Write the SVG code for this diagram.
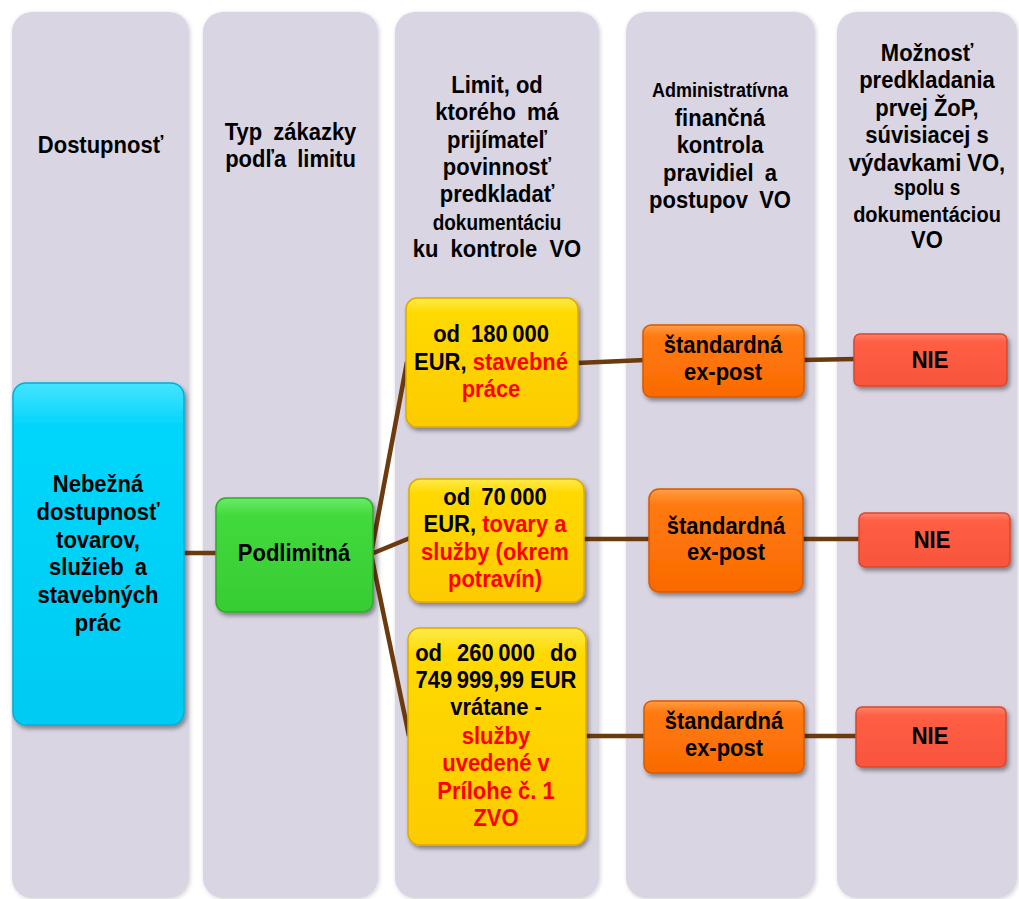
<svg xmlns="http://www.w3.org/2000/svg" width="1019" height="899" viewBox="0 0 1019 899">
<defs>
<style>
.t{font-family:"Liberation Sans",Arial,sans-serif;font-weight:bold;font-size:22px;text-anchor:middle;fill:#000}
.s{font-size:19px}
.r{fill:#FF0000}
.col{fill:#D9D5E3;filter:url(#csh)}
.con{stroke:#6B3A0E;stroke-width:4.5;fill:none;stroke-linecap:butt}
.n{filter:url(#sh);stroke-width:1.5}
</style>
<filter id="sh" x="-15%" y="-15%" width="135%" height="140%">
<feDropShadow dx="2" dy="3" stdDeviation="2.2" flood-color="#000" flood-opacity="0.4"/>
</filter>
<filter id="csh" x="-10%" y="-5%" width="120%" height="110%">
<feDropShadow dx="1" dy="1" stdDeviation="2" flood-color="#000" flood-opacity="0.18"/>
</filter>
<linearGradient id="gc" x1="0" y1="0" x2="0" y2="1"><stop offset="0" stop-color="#45E4FF"/><stop offset="0.12" stop-color="#05D6FB"/><stop offset="1" stop-color="#00CBF2"/></linearGradient>
<linearGradient id="gg" x1="0" y1="0" x2="0" y2="1"><stop offset="0" stop-color="#6CEA66"/><stop offset="0.15" stop-color="#42DA3D"/><stop offset="1" stop-color="#37CC33"/></linearGradient>
<linearGradient id="gy" x1="0" y1="0" x2="0" y2="1"><stop offset="0" stop-color="#FFEB4A"/><stop offset="0.12" stop-color="#FFD900"/><stop offset="1" stop-color="#FCCB00"/></linearGradient>
<linearGradient id="go" x1="0" y1="0" x2="0" y2="1"><stop offset="0" stop-color="#FF9E45"/><stop offset="0.15" stop-color="#FF7A12"/><stop offset="1" stop-color="#FA6A00"/></linearGradient>
<linearGradient id="gr" x1="0" y1="0" x2="0" y2="1"><stop offset="0" stop-color="#FF836A"/><stop offset="0.15" stop-color="#FF5E44"/><stop offset="1" stop-color="#F8553C"/></linearGradient>
</defs>
<rect width="1019" height="899" fill="#FFFFFF"/>
<g id="columns">
<rect class="col" x="12" y="12" width="177" height="886" rx="20"/>
<rect class="col" x="203" y="12" width="175" height="886" rx="20"/>
<rect class="col" x="395" y="12" width="204" height="886" rx="20"/>
<rect class="col" x="626" y="12" width="189" height="886" rx="20"/>
<rect class="col" x="837" y="12" width="180" height="886" rx="20"/>
</g>
<g id="headers">
<text class="t" transform="translate(100.5,153) scale(1,1.12)">Dostupnosť</text>
<text class="t" transform="translate(290.5,140) scale(1,1.12)" word-spacing="5"><tspan x="0">Typ zákazky</tspan><tspan x="0" dy="24.5">podľa limitu</tspan></text>
<text class="t" transform="translate(497,93) scale(1,1.12)"><tspan x="0">Limit, od</tspan><tspan x="0" dy="24.5" word-spacing="5">ktorého má</tspan><tspan x="0" dy="24.5">prijímateľ</tspan><tspan x="0" dy="24.5">povinnosť</tspan><tspan x="0" dy="24.2">predkladať</tspan><tspan x="0" dy="24.5" class="s" font-size="20">dokumentáciu</tspan><tspan x="0" dy="24.5" word-spacing="6">ku kontrole VO</tspan></text>
<text class="t" transform="translate(720,97) scale(1,1.12)"><tspan x="0" font-size="18">Administratívna</tspan><tspan x="0" dy="25.9">finančná</tspan><tspan x="0" dy="24.1">kontrola</tspan><tspan x="0" dy="25" word-spacing="5">pravidiel a</tspan><tspan x="0" dy="24.1" word-spacing="5">postupov VO</tspan></text>
<text class="t" transform="translate(927,61) scale(1,1.12)"><tspan x="0">Možnosť</tspan><tspan x="0" dy="24.1">predkladania</tspan><tspan x="0" dy="25">prvej ŽoP,</tspan><tspan x="0" dy="24.1">súvisiacej s</tspan><tspan x="0" dy="25">výdavkami VO,</tspan><tspan x="0" dy="21.4" font-size="19">spolu s</tspan><tspan x="0" dy="24.1" font-size="20">dokumentáciou</tspan><tspan x="0" dy="23.2">VO</tspan></text>
</g>
<g id="connectors">
<line class="con" x1="183" y1="553" x2="218" y2="553"/>
<line class="con" x1="371" y1="554" x2="407" y2="362"/>
<line class="con" x1="371" y1="554" x2="410" y2="538"/>
<line class="con" x1="371" y1="554" x2="409" y2="736"/>
<line class="con" x1="577" y1="363" x2="645" y2="360"/>
<line class="con" x1="802" y1="360" x2="856" y2="359"/>
<line class="con" x1="582" y1="539" x2="651" y2="539"/>
<line class="con" x1="801" y1="539" x2="861" y2="539"/>
<line class="con" x1="584" y1="736" x2="646" y2="736"/>
<line class="con" x1="802" y1="736" x2="858" y2="736"/>
</g>
<g id="node-nebezna">
<rect class="n" x="13" y="383" width="171" height="342" rx="13" fill="url(#gc)" stroke="#00AED6"/>
<text class="t" transform="translate(98,492) scale(1,1.12)"><tspan x="0">Nebežná</tspan><tspan x="0" dy="24.8">dostupnosť</tspan><tspan x="0" dy="24.8">tovarov,</tspan><tspan x="0" dy="24.8" word-spacing="5">služieb a</tspan><tspan x="0" dy="24.8">stavebných</tspan><tspan x="0" dy="24.8">prác</tspan></text>
</g>
<g id="node-podlimitna">
<rect class="n" x="216" y="498" width="157" height="114" rx="10" fill="url(#gg)" stroke="#2DAA29"/>
<text class="t" transform="translate(294,561) scale(1,1.12)">Podlimitná</text>
</g>
<g id="node-limit-1">
<rect class="n" x="406" y="298" width="172" height="129" rx="11" fill="url(#gy)" stroke="#DDAA00"/>
<text class="t" transform="translate(491,342) scale(1,1.12)"><tspan x="0" word-spacing="5">od 180&#8201;000</tspan><tspan x="0" dy="24.6">EUR, <tspan class="r">stavebné</tspan></tspan><tspan x="0" dy="24.6" class="r">práce</tspan></text>
</g>
<g id="node-limit-2">
<rect class="n" x="409" y="479" width="175" height="123" rx="11" fill="url(#gy)" stroke="#DDAA00"/>
<text class="t" transform="translate(495,505) scale(1,1.12)"><tspan x="0" word-spacing="5">od 70&#8201;000</tspan><tspan x="0" dy="24.3">EUR, <tspan class="r">tovary a</tspan></tspan><tspan x="0" dy="24.6" class="r">služby (okrem</tspan><tspan x="0" dy="24.3" class="r">potravín)</tspan></text>
</g>
<g id="node-limit-3">
<rect class="n" x="408" y="628" width="178" height="217" rx="12" fill="url(#gy)" stroke="#DDAA00"/>
<text class="t" transform="translate(496,661) scale(1,1.12)"><tspan x="0" word-spacing="9">od 260&#8201;000 do</tspan><tspan x="0" dy="24.1">749&#8201;999,99 EUR</tspan><tspan x="0" dy="24.1">vrátane -</tspan><tspan x="0" dy="25.9" class="r">služby</tspan><tspan x="0" dy="24.1" class="r">uvedené v</tspan><tspan x="0" dy="25" class="r">Prílohe č. 1</tspan><tspan x="0" dy="24.1" class="r">ZVO</tspan></text>
</g>
<g id="node-kontrola-1">
<rect class="n" x="643" y="325" width="161" height="72" rx="8" fill="url(#go)" stroke="#D65A00"/>
<text class="t" transform="translate(723,353) scale(1,1.12)"><tspan x="0">štandardná</tspan><tspan x="0" dy="24.1">ex-post</tspan></text>
</g>
<g id="node-kontrola-2">
<rect class="n" x="649" y="489" width="154" height="103" rx="10" fill="url(#go)" stroke="#D65A00"/>
<text class="t" transform="translate(726,534) scale(1,1.12)"><tspan x="0">štandardná</tspan><tspan x="0" dy="23.6">ex-post</tspan></text>
</g>
<g id="node-kontrola-3">
<rect class="n" x="644" y="701" width="160" height="72" rx="8" fill="url(#go)" stroke="#D65A00"/>
<text class="t" transform="translate(724,729) scale(1,1.12)"><tspan x="0">štandardná</tspan><tspan x="0" dy="24.1">ex-post</tspan></text>
</g>
<g id="node-nie-1">
<rect class="n" x="854" y="334" width="153" height="52" rx="6" fill="url(#gr)" stroke="#D8472F"/>
<text class="t" font-size="24" transform="translate(930,368) scale(1,1.12)">NIE</text>
</g>
<g id="node-nie-2">
<rect class="n" x="859" y="513" width="151" height="54" rx="6" fill="url(#gr)" stroke="#D8472F"/>
<text class="t" font-size="24" transform="translate(932,548) scale(1,1.12)">NIE</text>
</g>
<g id="node-nie-3">
<rect class="n" x="856" y="707" width="150" height="60" rx="6" fill="url(#gr)" stroke="#D8472F"/>
<text class="t" font-size="24" transform="translate(930,744) scale(1,1.12)">NIE</text>
</g>
</svg>
